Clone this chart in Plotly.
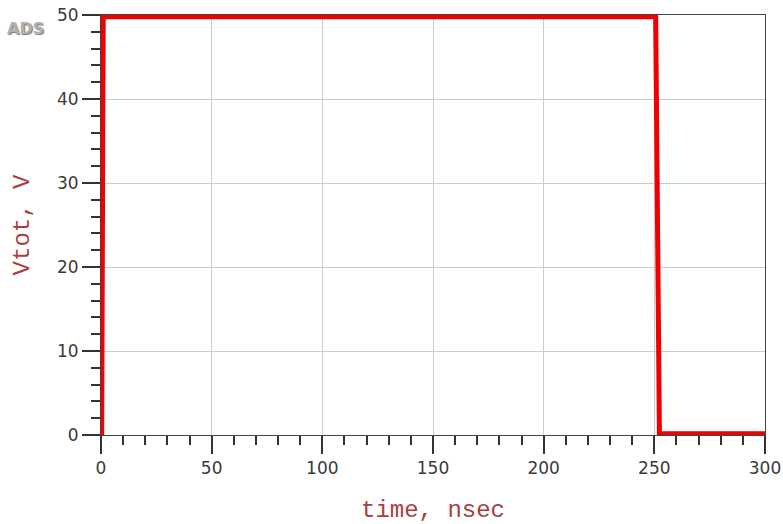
import plotly.graph_objects as go

time_ns = [0.0, 0.3, 1.0, 250.6, 252.3, 300.0]
vtot = [0.0, 0.0, 49.8, 49.8, 0.15, 0.15]

x_ticks = [0, 50, 100, 150, 200, 250, 300]
y_ticks = [0, 10, 20, 30, 40, 50]

tick_font = dict(family="DejaVu Sans", size=17, color="#3a3a3a")
title_font = dict(family="Liberation Mono", size=24, color="#a84040")

fig = go.Figure()
fig.add_trace(go.Scatter(x=time_ns, y=vtot, mode="lines",
                         line=dict(color="#f00000", width=5), showlegend=False))

axis_common = dict(
    showline=True, linecolor="#444444", linewidth=1, mirror=True,
    showgrid=True, gridcolor="#cccccc", gridwidth=1,
    ticks="outside", ticklen=18, tickwidth=1.5, tickcolor="#333333",
    tickfont=tick_font, zeroline=False, automargin=False,
)

fig.update_layout(
    width=783, height=524,
    margin=dict(l=101, r=18, t=15, b=89, autoexpand=False),
    paper_bgcolor="white", plot_bgcolor="white",
    xaxis=dict(range=[0, 300], tickvals=x_ticks,
               title=dict(text="time, nsec", font=title_font, standoff=22),
               minor=dict(dtick=10, ticklen=9, tickwidth=1.5, tickcolor="#333333",
                          ticks="outside", showgrid=False),
               **axis_common),
    yaxis=dict(range=[0, 50], tickvals=y_ticks,
               title=dict(text="Vtot, V", font=title_font, standoff=20),
               minor=dict(dtick=2, ticklen=9, tickwidth=1.5, tickcolor="#333333",
                          ticks="outside", showgrid=False),
               **axis_common),
    annotations=[dict(text="<b>ADS</b>", xref="paper", yref="paper",
                      x=-0.114, y=0.968, xanchor="center", yanchor="middle",
                      showarrow=False,
                      font=dict(family="DejaVu Sans", size=16, color="#b0b0b0",
                                shadow="1px 1px 1px #777"))],
)

fig.write_html("out.html")
